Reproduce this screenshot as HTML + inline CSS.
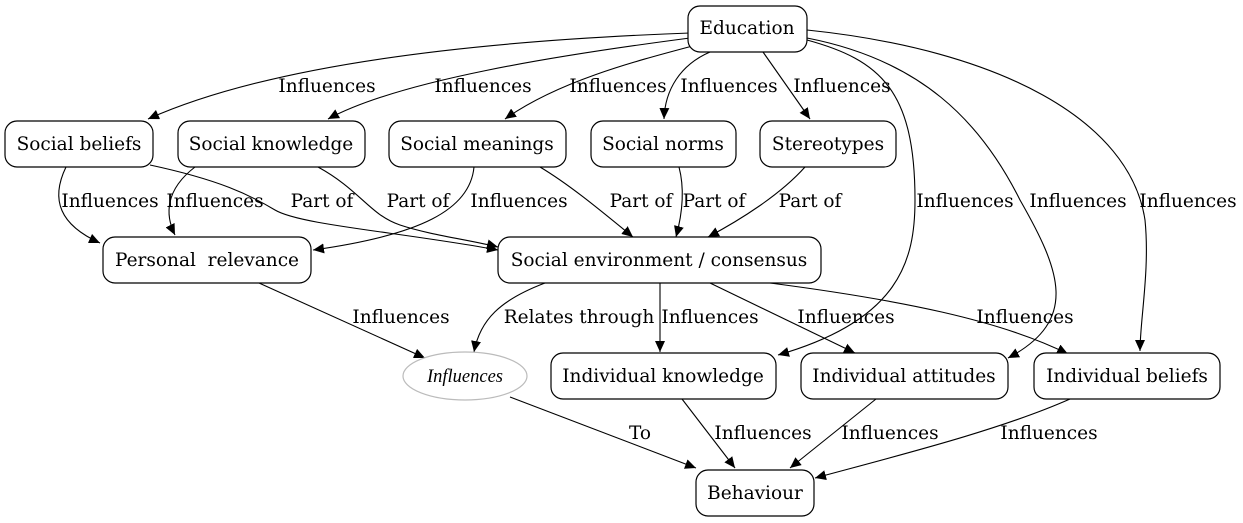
<!DOCTYPE html>
<html><head><meta charset="utf-8"><style>
html,body{margin:0;padding:0;background:#fff;}
svg{display:block;}
text{font-family:"DejaVu Serif",serif;font-size:18.5px;fill:#000;}
.n{fill:#fff;stroke:#000;stroke-width:1.2;}
.e{fill:none;stroke:#000;stroke-width:1.1;marker-end:url(#a);}
</style></head><body>
<svg width="1243" height="523" viewBox="0 0 1243 523">
<defs><marker id="a" markerUnits="userSpaceOnUse" markerWidth="12" markerHeight="10" refX="11" refY="5" orient="auto"><path d="M0,0 L11,5 L0,10 Z" fill="#000"/></marker></defs>
<g>
<path class="e" d="M690,33 C500,40 280,60 148,119"/>
<path class="e" d="M690,38 C560,55 400,80 328,119"/>
<path class="e" d="M700,44 C640,60 560,80 505,119"/>
<path class="e" d="M710,52 C680,65 665,90 664,119"/>
<path class="e" d="M763,52 L810,119"/>
<path class="e" d="M807,40 C880,60 915,90 915,200 C915,260 900,320 778,355"/>
<path class="e" d="M807,38 C920,60 980,120 1020,200 C1060,270 1080,320 1008,358"/>
<path class="e" d="M807,30 C1000,50 1130,120 1145,220 C1150,270 1140,320 1140,351"/>
<path class="e" d="M66,167 C50,200 60,225 100,243"/>
<path class="e" d="M150,165 C220,180 250,195 275,210 C300,225 400,232 498,250"/>
<path class="e" d="M195,167 C165,190 165,215 175,235"/>
<path class="e" d="M318,167 C360,190 370,215 400,225 C430,235 470,240 498,247"/>
<path class="e" d="M474,167 C470,210 420,235 313,250"/>
<path class="e" d="M540,167 C570,185 600,210 633,237"/>
<path class="e" d="M679,167 C685,190 682,215 676,237"/>
<path class="e" d="M805,167 C780,195 740,220 708,237"/>
<path class="e" d="M259,283 L425,358"/>
<path class="e" d="M545,283 C500,300 480,320 474,352"/>
<path class="e" d="M660,283 L660,352"/>
<path class="e" d="M710,283 L855,353"/>
<path class="e" d="M770,283 C900,300 1000,320 1068,354"/>
<path class="e" d="M510,397 L696,468"/>
<path class="e" d="M682,399 L735,468"/>
<path class="e" d="M876,399 L790,468"/>
<path class="e" d="M1070,399 C1000,430 900,455 815,478"/>
</g>
<g text-anchor="middle">
<text x="327" y="92">Influences</text>
<text x="483" y="92">Influences</text>
<text x="618" y="92">Influences</text>
<text x="729" y="92">Influences</text>
<text x="842" y="92">Influences</text>
<text x="965" y="207">Influences</text>
<text x="1078" y="207">Influences</text>
<text x="1188" y="207">Influences</text>
<text x="110" y="207">Influences</text>
<text x="322" y="207">Part of</text>
<text x="215" y="207">Influences</text>
<text x="418" y="207">Part of</text>
<text x="519" y="207">Influences</text>
<text x="641" y="207">Part of</text>
<text x="714" y="207">Part of</text>
<text x="810" y="207">Part of</text>
<text x="401" y="323">Influences</text>
<text x="579" y="323">Relates through</text>
<text x="710" y="323">Influences</text>
<text x="846" y="323">Influences</text>
<text x="1025" y="323">Influences</text>
<text x="640" y="439">To</text>
<text x="763" y="439">Influences</text>
<text x="890" y="439">Influences</text>
<text x="1049" y="439">Influences</text>
</g>
<g>
<rect class="n" x="688" y="6" width="119" height="46" rx="12"/>
<rect class="n" x="5" y="121" width="148" height="46" rx="12"/>
<rect class="n" x="178" y="121" width="187" height="46" rx="12"/>
<rect class="n" x="389" y="121" width="177" height="46" rx="12"/>
<rect class="n" x="591" y="121" width="145" height="46" rx="12"/>
<rect class="n" x="760" y="121" width="136" height="46" rx="12"/>
<rect class="n" x="103" y="237" width="208" height="46" rx="12"/>
<rect class="n" x="498" y="237" width="323" height="46" rx="12"/>
<ellipse cx="465" cy="376" rx="62" ry="24" fill="#fff" stroke="#bbb" stroke-width="1.2"/>
<rect class="n" x="551" y="353" width="225" height="46" rx="12"/>
<rect class="n" x="801" y="353" width="207" height="46" rx="12"/>
<rect class="n" x="1034" y="353" width="186" height="46" rx="12"/>
<rect class="n" x="696" y="470" width="118" height="46" rx="12"/>
</g>
<g text-anchor="middle">
<text x="747" y="34">Education</text>
<text x="79" y="150">Social beliefs</text>
<text x="271" y="150">Social knowledge</text>
<text x="477" y="150">Social meanings</text>
<text x="663" y="150">Social norms</text>
<text x="828" y="150">Stereotypes</text>
<text x="207" y="266" xml:space="preserve">Personal  relevance</text>
<text x="659" y="266">Social environment / consensus</text>
<text x="465" y="382" font-style="italic" font-size="17.5" style="font-family:'Liberation Serif',serif">Influences</text>
<text x="663" y="382">Individual knowledge</text>
<text x="904" y="382">Individual attitudes</text>
<text x="1127" y="382">Individual beliefs</text>
<text x="755" y="499">Behaviour</text>
</g>
</svg>
</body></html>
